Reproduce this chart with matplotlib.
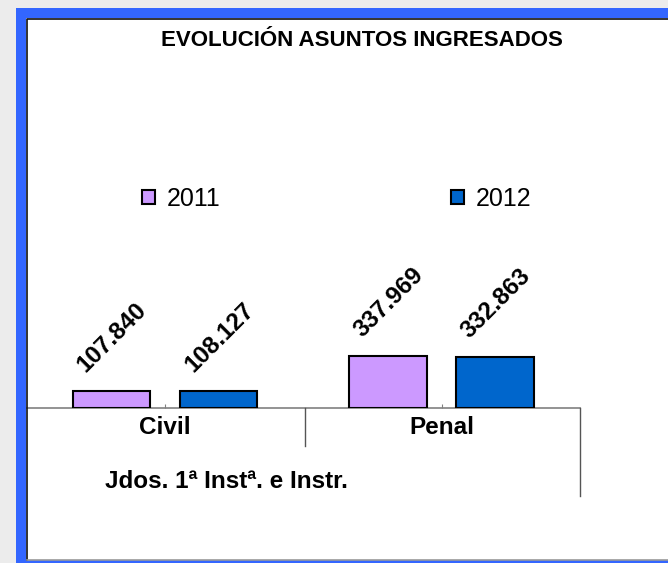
import matplotlib
matplotlib.use("Agg")
import matplotlib.pyplot as plt
from matplotlib.patches import Rectangle
from matplotlib.lines import Line2D
import numpy as np

plt.rcParams["font.family"] = ["Liberation Sans", "DejaVu Sans"]

# ---- data ----
categories = ["Civil", "Penal"]
years = ["2011", "2012"]
values_2011 = [107840, 337969]
values_2012 = [108127, 332863]
group_label = "Jdos. 1ª Instª. e Instr."
title = "EVOLUCIÓN ASUNTOS INGRESADOS"

colors = ["#CC99FF", "#0066CC"]

W, H = 668, 563
fig = plt.figure(figsize=(W / 100, H / 100), dpi=100)
fig.patch.set_facecolor("#ececec")


def fx(px):
    return px / W


def fy(py):
    return 1 - py / H


# frame: blue border round a white panel
fig.add_artist(Rectangle((fx(16), fy(563)), fx(W - 16), fy(8) - fy(563),
                         transform=fig.transFigure, facecolor="#3366FF", edgecolor="none", zorder=0))
fig.add_artist(Rectangle((fx(26), fy(560)), fx(W - 26), fy(18) - fy(560),
                         transform=fig.transFigure, facecolor="white", edgecolor="none", zorder=0))
fig.add_artist(Line2D([fx(26.5), fx(26.5), fx(W)], [fy(560), fy(18.5), fy(18.5)],
                      transform=fig.transFigure, color="#111111", lw=1.2, zorder=1))
fig.add_artist(Line2D([fx(26.5), fx(W)], [fy(559.5), fy(559.5)],
                      transform=fig.transFigure, color="#999999", lw=1.2, zorder=1))

# plot area
ax = fig.add_axes([fx(27), fy(408), fx(580 - 27), fy(220) - fy(408)])
ax.set_facecolor("none")
x = np.arange(len(categories))
width = 0.28
offsets = [-0.195, 0.193]
series = [values_2011, values_2012]
bars = []
for vals, off, col, yr in zip(series, offsets, colors, years):
    b = ax.bar(x + off, vals, width, color=col, edgecolor="black", linewidth=1.5, label=yr, zorder=3)
    bars.append(b)
    for rect, v in zip(b, vals):
        ax.annotate(f"{v:,}".replace(",", "."), (rect.get_x(), v),
                    xytext=(9.5, 13), textcoords="offset points",
                    rotation=45, rotation_mode="anchor", ha="left", va="baseline",
                    fontsize=17.5, fontweight="bold")

ax.set_xlim(-0.5, 1.5)
ax.set_ylim(0, 1.22e6)
for s in ["top", "left", "right"]:
    ax.spines[s].set_visible(False)
ax.spines["bottom"].set_color("#808080")
ax.spines["bottom"].set_linewidth(1.2)
ax.set_yticks([])
ax.set_xticks(x)
ax.set_xticklabels([])
ax.tick_params(axis="x", direction="in", length=3, color="#808080")

# category labels and separators below the axis
label_y = -(427 - 408) / (408 - 220)
for xi, cat in zip(x, categories):
    ax.text(xi, label_y, cat, transform=ax.get_xaxis_transform(), ha="center", va="center",
            fontsize=17.5, fontweight="bold")

fig.add_artist(Line2D([fx(305), fx(305)], [fy(408), fy(446)], transform=fig.transFigure,
                      color="#555555", lw=1))
fig.add_artist(Line2D([fx(580), fx(580)], [fy(408), fy(496)], transform=fig.transFigure,
                      color="#555555", lw=1))
fig.text(fx(226), fy(482), group_label, ha="center", va="center", fontsize=17.5, fontweight="bold")

fig.text(fx(362), fy(41), title, ha="center", va="center", fontsize=16, fontweight="bold")

fig.legend(handles=bars, labels=years, loc="center left", bbox_to_anchor=(fx(142), fy(199)),
           ncol=2, frameon=False, fontsize=18, handlelength=0.52, handleheight=0.52,
           handletextpad=0.48, columnspacing=9.2, borderpad=0, borderaxespad=0)

fig.savefig("out.png", dpi=100, facecolor=fig.get_facecolor())
